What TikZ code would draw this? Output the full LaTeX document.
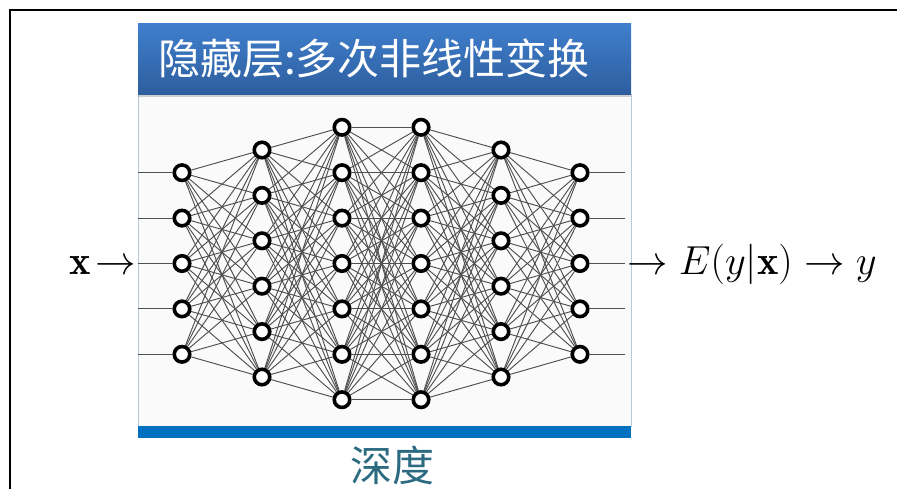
\RequirePackage{fix-cm}
\documentclass[tikz,border=0pt]{standalone}
\usepackage{fontspec}
\newfontfamily\cjk{Noto Sans CJK SC}
\usetikzlibrary{shadows,backgrounds}
\definecolor{titletop}{RGB}{63,127,205}
\definecolor{titlebot}{RGB}{46,94,158}
\definecolor{barblue}{RGB}{0,112,192}
\definecolor{depthcol}{RGB}{44,106,130}
\definecolor{edgegray}{RGB}{80,80,80}
\definecolor{panelbg}{RGB}{250,250,250}
\definecolor{panelline}{RGB}{184,200,216}
\begin{document}
\begin{tikzpicture}[x=1pt,y=-1pt,
  neuron/.style={circle, draw=black, fill=white, line width=3.6pt, minimum size=15.5pt, inner sep=0pt},
  conn/.style={draw=edgegray, line width=0.95pt},
  frameline/.style={draw=black, line width=2pt},
  titlebox/.style={rectangle, top color=titletop, bottom color=titlebot, draw=none,
     minimum width=493pt, minimum height=71pt, inner sep=0pt,
     drop shadow={opacity=0.35, shadow xshift=0pt, shadow yshift=-3pt}},
  panelbox/.style={rectangle, fill=panelbg, draw=panelline, line width=0.8pt,
     minimum width=493pt, minimum height=332pt, inner sep=0pt},
  barbox/.style={rectangle, fill=barblue, draw=none, minimum width=493pt, minimum height=12pt, inner sep=0pt},
  titletext/.style={text=white, font=\cjk\fontsize{42}{44}\selectfont, inner sep=0pt},
  depthtext/.style={text=depthcol, font=\cjk\fontsize{42}{44}\selectfont, inner sep=0pt},
  mathtext/.style={text=black, font=\fontsize{40.5}{42}\selectfont, inner sep=0pt}
]
\useasboundingbox (0,0) rectangle (897,489);
% outer frame (cropped)
\draw[frameline] (10,489) -- (10,10) -- (897,10);

% neurons
\foreach \l/\x/\n in {1/182/5,2/262/6,3/342/7,4/421/7,5/501/6,6/580/5} {
  \foreach \i in {1,...,\n} {
    \pgfmathsetmacro\yy{263.5+(\i-(\n+1)/2)*45.4}
    \node[neuron] (n\l-\i) at (\x,\yy) {};
  }
}

\begin{scope}[on background layer]
  \node[panelbox, anchor=north west] (panel) at (138,94) {};
  \coordinate (outend) at (625,263);
  \foreach \a/\na/\b/\nb in {1/5/2/6, 2/6/3/7, 3/7/4/7, 4/7/5/6, 5/6/6/5} {
    \foreach \i in {1,...,\na} {
      \foreach \j in {1,...,\nb} {
        \draw[conn] (n\a-\i) -- (n\b-\j);
      }
    }
  }
  \foreach \i in {1,...,5} {
    \draw[conn] (n1-\i -| panel.west) -- (n1-\i);
    \draw[conn] (n6-\i) -- (n6-\i -| outend);
  }
\end{scope}

\node[barbox, anchor=north west] (bar) at (138,426) {};

% title
\node[titlebox, anchor=north west] (title) at (138,23) {};
\node[titletext, anchor=west] (titlet) at (158,59) {隐藏层:多次非线性变换};

% depth label
\node[depthtext] (depth) at (392,465) {深度};

% input / output
\node[mathtext, anchor=base east] (xin) at (136,274) {$\mathbf{x}\!\rightarrow$};
\node[mathtext, anchor=base west] (yout) at (627,274) {$\rightarrow E(y|\mathbf{x}) \rightarrow y$};
\end{tikzpicture}
\end{document}
